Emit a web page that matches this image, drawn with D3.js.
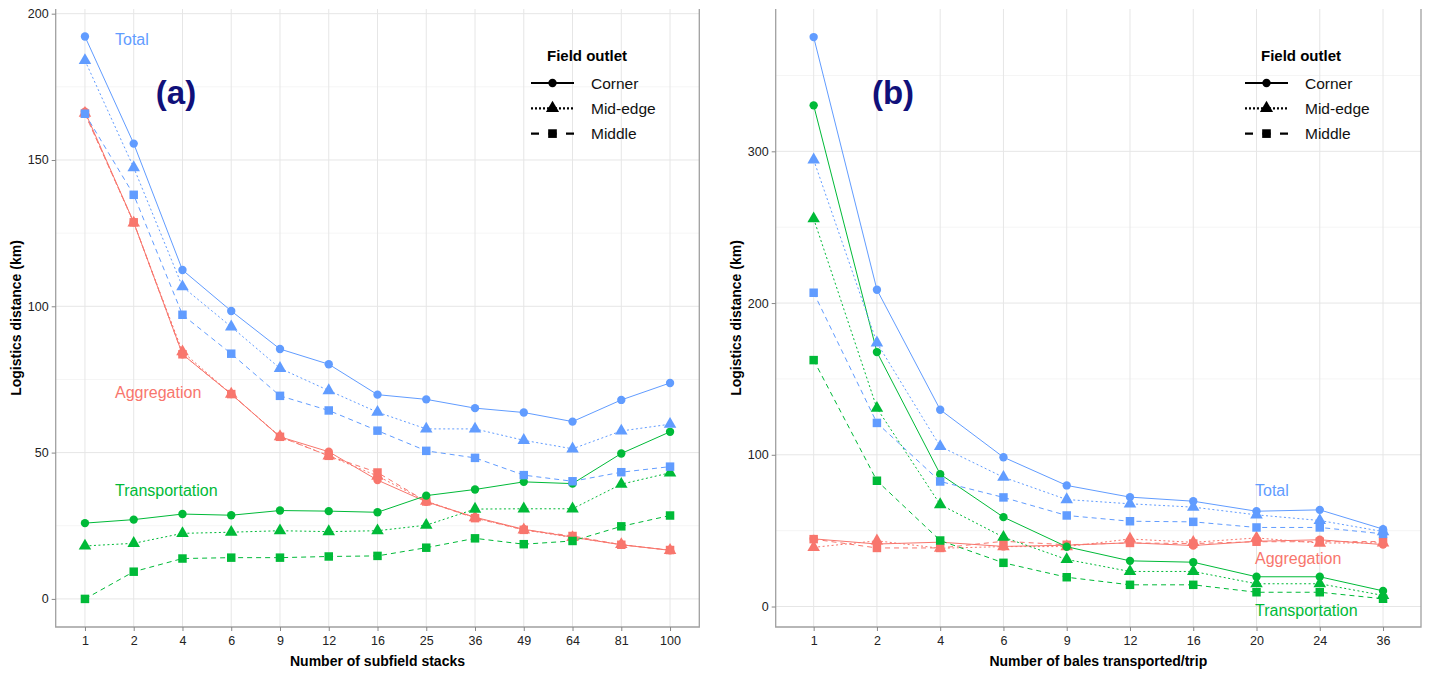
<!DOCTYPE html>
<html lang="en">
<head>
  <meta charset="utf-8" />
  <script src="https://d3js.org/d3.v7.min.js"></script>
  <style>
    body { margin: 0; background: #fff; }
    text { font-family: "Liberation Sans", Arial, sans-serif; }
  </style>
</head>
<body>
<script>
// ---- data, panel (a): number of subfield stacks ----
var stacksCats = ["1", "2", "4", "6", "9", "12", "16", "25", "36", "49", "64", "81", "100"];
var aTotalCorner  = [192.2, 155.6, 112.4, 98.4, 85.4, 80.2, 69.8, 68.2, 65.2, 63.7, 60.6, 68.0, 73.8];
var aTotalMidEdge = [184.0, 147.4, 106.7, 93.0, 78.8, 71.2, 63.8, 58.1, 58.1, 54.2, 51.3, 57.4, 59.7];
var aTotalMiddle  = [165.8, 138.1, 97.1, 83.8, 69.4, 64.4, 57.5, 50.6, 48.2, 42.3, 40.2, 43.3, 45.2];
var aAggCorner    = [166.5, 128.7, 83.6, 70.0, 55.4, 50.3, 40.6, 33.2, 27.9, 23.8, 21.1, 18.5, 16.6];
var aAggMidEdge   = [166.0, 128.5, 84.5, 70.0, 55.5, 48.9, 42.0, 33.4, 27.8, 23.6, 21.0, 18.6, 16.6];
var aAggMiddle    = [165.8, 128.7, 83.6, 70.0, 55.4, 48.9, 43.2, 33.3, 27.6, 23.6, 21.5, 18.5, 16.7];
var aTrCorner     = [25.9, 27.1, 29.0, 28.6, 30.2, 30.0, 29.6, 35.3, 37.4, 40.0, 39.4, 49.7, 57.1];
var aTrMidEdge    = [18.1, 19.0, 22.4, 22.8, 23.3, 23.0, 23.3, 25.2, 30.7, 30.8, 30.8, 39.2, 43.1];
var aTrMiddle     = [0.0, 9.3, 13.8, 14.1, 14.1, 14.5, 14.7, 17.5, 20.7, 18.7, 19.8, 24.8, 28.5];
var aTicks = [0, 50, 100, 150, 200];

// ---- data, panel (b): number of bales transported/trip ----
var balesCats = ["1", "2", "4", "6", "9", "12", "16", "20", "24", "36"];
var bTotalCorner  = [375.3, 208.8, 129.7, 98.4, 79.8, 72.1, 69.4, 62.8, 63.7, 51.0];
var bTotalMidEdge = [294.4, 173.8, 105.5, 85.2, 70.5, 67.7, 65.5, 60.4, 56.7, 49.4];
var bTotalMiddle  = [206.8, 121.0, 82.4, 71.9, 60.0, 56.2, 55.8, 52.1, 52.1, 47.9];
var bAggCorner    = [44.6, 41.2, 42.4, 39.6, 40.4, 42.0, 40.2, 43.0, 44.0, 40.8];
var bAggMidEdge   = [39.0, 43.3, 38.4, 39.5, 39.5, 44.5, 42.3, 45.2, 41.8, 42.0];
var bAggMiddle    = [44.4, 38.6, 38.6, 43.0, 40.7, 41.9, 41.5, 42.7, 42.7, 42.8];
var bTrCorner     = [330.3, 167.7, 87.2, 58.9, 39.4, 30.1, 29.2, 19.6, 19.6, 10.3];
var bTrMidEdge    = [255.6, 130.7, 67.2, 45.7, 31.0, 23.1, 23.1, 15.0, 15.0, 7.3];
var bTrMiddle     = [162.4, 82.9, 43.5, 28.8, 19.3, 14.3, 14.3, 9.4, 9.4, 5.1];
var bTicks = [0, 100, 200, 300];

var outlets = ["Corner", "Mid-edge", "Middle"];
var colRed = "#F8766D", colGreen = "#00BA38", colBlue = "#619CFF";

var dashFor = { "Corner": null, "Mid-edge": "2,2.5", "Middle": "5,4" };
var symFor = { "Corner": d3.symbolCircle, "Mid-edge": d3.symbolTriangle, "Middle": d3.symbolSquare };
var sizeFor = { "Corner": 55, "Mid-edge": 68, "Middle": 72 };

var svg = d3.select("body").append("svg")
  .attr("width", 1429).attr("height", 675);

function drawPanel(p) {
  var g = svg.append("g");
  var x = d3.scalePoint().domain(p.cats).range([p.left, p.right]).padding(0.6);
  var y = d3.scaleLinear().domain(p.ydom).range([p.bottom, p.top]);

  // minor grid
  var minor = [];
  for (var i = 0; i < p.ticks.length - 1; i++) minor.push((p.ticks[i] + p.ticks[i + 1]) / 2);
  minor.push(p.ticks[p.ticks.length - 1] + (p.ticks[1] - p.ticks[0]) / 2);
  g.selectAll(".minor").data(minor.filter(function (v) { return y(v) > p.top; }))
    .join("line")
    .attr("x1", p.left).attr("x2", p.right)
    .attr("y1", function (d) { return y(d); }).attr("y2", function (d) { return y(d); })
    .attr("stroke", "#f2f2f2").attr("stroke-width", 0.8);
  // major grid
  g.selectAll(".hmajor").data(p.ticks).join("line")
    .attr("x1", p.left).attr("x2", p.right)
    .attr("y1", function (d) { return y(d); }).attr("y2", function (d) { return y(d); })
    .attr("stroke", "#e6e6e6").attr("stroke-width", 1);
  g.selectAll(".vmajor").data(p.cats).join("line")
    .attr("x1", function (d) { return x(d); }).attr("x2", function (d) { return x(d); })
    .attr("y1", p.top).attr("y2", p.bottom)
    .attr("stroke", "#e6e6e6").attr("stroke-width", 1);

  // border (left, bottom, right)
  g.append("path")
    .attr("d", "M" + p.left + "," + p.top + "V" + p.bottom + "H" + p.right + "V" + p.top)
    .attr("fill", "none").attr("stroke", "#a0a0a0").attr("stroke-width", 1.3);

  // axes
  var yAxis = g.append("g").attr("transform", "translate(" + p.left + ",0)")
    .call(d3.axisLeft(y).tickValues(p.ticks).tickSize(4).tickPadding(3));
  var xAxis = g.append("g").attr("transform", "translate(0," + p.bottom + ")")
    .call(d3.axisBottom(x).tickSize(4).tickPadding(5));
  [xAxis, yAxis].forEach(function (a) {
    a.select(".domain").remove();
    a.selectAll(".tick line").attr("stroke", "#888");
    a.selectAll("text").attr("fill", "#222").style("font-size", "12.5px")
      .style("font-family", "'Liberation Sans', Arial, sans-serif");
  });

  // series
  p.series.forEach(function (s) {
    var pts = s.values.map(function (v, i) { return [x(p.cats[i]), y(v)]; });
    g.append("path")
      .attr("d", d3.line()(pts))
      .attr("fill", "none").attr("stroke", s.color).attr("stroke-width", 1)
      .attr("stroke-dasharray", dashFor[s.outlet]);
    g.selectAll(null).data(pts).join("path")
      .attr("transform", function (d) { return "translate(" + d[0] + "," + d[1] + ")"; })
      .attr("d", d3.symbol().type(symFor[s.outlet]).size(sizeFor[s.outlet]))
      .attr("fill", s.color);
  });

  // axis titles
  g.append("text")
    .attr("x", (p.left + p.right) / 2).attr("y", 666)
    .attr("text-anchor", "middle").attr("font-weight", "bold").attr("font-size", 14)
    .text(p.xTitle);
  g.append("text")
    .attr("transform", "translate(" + p.yTitleX + "," + ((p.top + p.bottom) / 2) + ") rotate(-90)")
    .attr("text-anchor", "middle").attr("font-weight", "bold").attr("font-size", 14)
    .text("Logistics distance (km)");

  // panel label
  g.append("text").attr("x", p.tagX).attr("y", 104)
    .attr("text-anchor", "middle").attr("font-weight", "bold").attr("font-size", 33)
    .attr("fill", "#10107a").text(p.tag);

  // series labels
  p.labels.forEach(function (l) {
    g.append("text").attr("x", l.x).attr("y", l.y)
      .attr("font-size", 16).attr("fill", l.color).text(l.text);
  });

  // legend
  var lg = g.append("g");
  lg.append("text").attr("x", p.legX + 40).attr("y", 61)
    .attr("text-anchor", "middle").attr("font-weight", "bold").attr("font-size", 15)
    .text("Field outlet");
  outlets.forEach(function (o, i) {
    var yy = 83 + i * 25.3;
    lg.append("line")
      .attr("x1", p.legX - 16).attr("x2", p.legX + 27)
      .attr("y1", yy).attr("y2", yy)
      .attr("stroke", "#000").attr("stroke-width", 2.2)
      .attr("stroke-dasharray", o === "Corner" ? null : (o === "Mid-edge" ? "2,2" : "8,9.5"));
    lg.append("path")
      .attr("transform", "translate(" + (p.legX + 5.5) + "," + yy + ")")
      .attr("d", d3.symbol().type(symFor[o]).size(o === "Corner" ? 55 : 75))
      .attr("fill", "#000");
    lg.append("text").attr("x", p.legX + 44).attr("y", yy + 5.5)
      .attr("font-size", 15.5).attr("fill", "#111").text(o);
  });
}

drawPanel({
  cats: stacksCats, ticks: aTicks, ydom: [-9.6, 201.6],
  left: 55.7, right: 699.3, top: 9, bottom: 627,
  xTitle: "Number of subfield stacks", yTitleX: 21, tag: "(a)", tagX: 176,
  legX: 547,
  labels: [
    { text: "Total", x: 115, y: 45, color: colBlue },
    { text: "Aggregation", x: 115, y: 398, color: colRed },
    { text: "Transportation", x: 115, y: 496, color: colGreen }
  ],
  series: [
    { outlet: "Corner", color: colRed, values: aAggCorner },
    { outlet: "Mid-edge", color: colRed, values: aAggMidEdge },
    { outlet: "Middle", color: colRed, values: aAggMiddle },
    { outlet: "Corner", color: colGreen, values: aTrCorner },
    { outlet: "Mid-edge", color: colGreen, values: aTrMidEdge },
    { outlet: "Middle", color: colGreen, values: aTrMiddle },
    { outlet: "Corner", color: colBlue, values: aTotalCorner },
    { outlet: "Mid-edge", color: colBlue, values: aTotalMidEdge },
    { outlet: "Middle", color: colBlue, values: aTotalMiddle }
  ]
});

drawPanel({
  cats: balesCats, ticks: bTicks, ydom: [-13.5, 393.8],
  left: 775.7, right: 1421, top: 9, bottom: 627,
  xTitle: "Number of bales transported/trip", yTitleX: 741, tag: "(b)", tagX: 893,
  legX: 1261,
  labels: [
    { text: "Total", x: 1255, y: 496, color: colBlue },
    { text: "Aggregation", x: 1255, y: 564, color: colRed },
    { text: "Transportation", x: 1255, y: 616, color: colGreen }
  ],
  series: [
    { outlet: "Corner", color: colRed, values: bAggCorner },
    { outlet: "Mid-edge", color: colRed, values: bAggMidEdge },
    { outlet: "Middle", color: colRed, values: bAggMiddle },
    { outlet: "Corner", color: colGreen, values: bTrCorner },
    { outlet: "Mid-edge", color: colGreen, values: bTrMidEdge },
    { outlet: "Middle", color: colGreen, values: bTrMiddle },
    { outlet: "Corner", color: colBlue, values: bTotalCorner },
    { outlet: "Mid-edge", color: colBlue, values: bTotalMidEdge },
    { outlet: "Middle", color: colBlue, values: bTotalMiddle }
  ]
});
</script>
</body>
</html>
